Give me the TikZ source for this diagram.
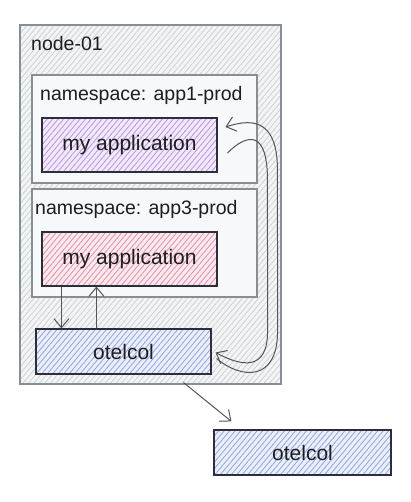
\documentclass[tikz,border=0pt]{standalone}
\usepackage{fontspec}
\setmainfont{Liberation Sans}
\usetikzlibrary{arrows.meta,patterns.meta,calc}
\definecolor{ink}{HTML}{1E1E1E}
\definecolor{boxline}{HTML}{2E2E3A}
\definecolor{grayline}{HTML}{868E96}
\definecolor{outerbase}{HTML}{F3F4F5}
\definecolor{outerhatch}{HTML}{CDD1D5}
\definecolor{nsfill}{HTML}{F7F8F9}
\definecolor{purbase}{HTML}{F2EAFB}
\definecolor{purhatch}{HTML}{BE9AE3}
\definecolor{pinkbase}{HTML}{FAEAEF}
\definecolor{pinkhatch}{HTML}{E296AD}
\definecolor{bluebase}{HTML}{EBEFFB}
\definecolor{bluehatch}{HTML}{98AAE0}
\definecolor{arrowcol}{HTML}{555555}
\tikzset{
  hatchbox/.style 2 args={draw=boxline, line width=1.1pt, preaction={fill=#1},
    pattern={Lines[angle=50,distance=4.2pt,line width=0.9pt]}, pattern color=#2,
    inner sep=0pt, font=\fontsize{21}{24}\selectfont, text=ink},
  outerbox/.style={draw=grayline, line width=1.2pt, preaction={fill=outerbase},
    pattern={Lines[angle=50,distance=4.2pt,line width=0.8pt]}, pattern color=outerhatch, inner sep=0pt},
  nsbox/.style={draw=grayline, line width=1.2pt, fill=nsfill, inner sep=0pt},
  lbl/.style={anchor=west, inner sep=0pt, text=ink, font=\fontsize{19.5}{22}\selectfont},
  flow/.style={draw=arrowcol, line width=1pt, -{Straight Barb[length=9pt,width=15pt,line width=1pt]}}
}
\begin{document}
\begin{tikzpicture}[x=1pt,y=-1pt]
\useasboundingbox (0,0) rectangle (411,502);
% outer node box
\node[outerbox, minimum width=261pt, minimum height=359pt] (node01) at (150.5,204.5) {};
\node[lbl] (node01lbl) at (31,44) {node-01};
% namespace app1
\node[nsbox, minimum width=225pt, minimum height=108pt] (ns1) at (144.5,129) {};
\node[lbl] (ns1lbl) at (40,95) {namespace: app1-prod};
\node[hatchbox={purbase}{purhatch}, minimum width=175pt, minimum height=54pt] (app1) at (129.5,145) {my application};
% namespace app3
\node[nsbox, minimum width=225pt, minimum height=108pt] (ns3) at (144.5,243) {};
\node[lbl] (ns3lbl) at (35,209) {namespace: app3-prod};
\node[hatchbox={pinkbase}{pinkhatch}, minimum width=175pt, minimum height=54pt] (app3) at (129.5,259) {my application};
% otelcol inside node
\node[hatchbox={bluebase}{bluehatch}, minimum width=175pt, minimum height=45pt] (otel1) at (123.5,351.5) {otelcol};
% external otelcol
\node[hatchbox={bluebase}{bluehatch}, minimum width=177pt, minimum height=45pt] (otel2) at (302.5,452.5) {otelcol};
% arrows between app3 and otel1
\draw[flow] ($(app3.south west)+(20,0)$) -- ($(otel1.north west)+(26,0)$);
\draw[flow] ($(otel1.north west)+(61,0)$) -- ($(app3.south west)+(55,0)$);
% curved arrows app1 <-> otel1
\draw[flow] ($(app1.east)+(10,8)$) .. controls ($(app1.east)+(30,-12)$) and ($(app1.east)+(50,-15)$) .. ($(app1.east)+(50,35)$)
   -- ($(otel1.east)+(56,-20)$) .. controls ($(otel1.east)+(56,20)$) and ($(otel1.east)+(30,15)$) .. ($(otel1.east)+(4,1)$);
\draw[flow] ($(otel1.east)+(5,7)$) .. controls ($(otel1.east)+(30,28)$) and ($(otel1.east)+(66,30)$) .. ($(otel1.east)+(66,-20)$)
   -- ($(app1.east)+(60,25)$) .. controls ($(app1.east)+(60,-30)$) and ($(app1.east)+(30,-25)$) .. ($(app1.east)+(8,-18)$);
% arrow to external otelcol
\draw[flow] ($(otel1.south east)+(-28,8)$) -- ($(otel2.north west)+(18,-8)$);
\end{tikzpicture}
\end{document}
